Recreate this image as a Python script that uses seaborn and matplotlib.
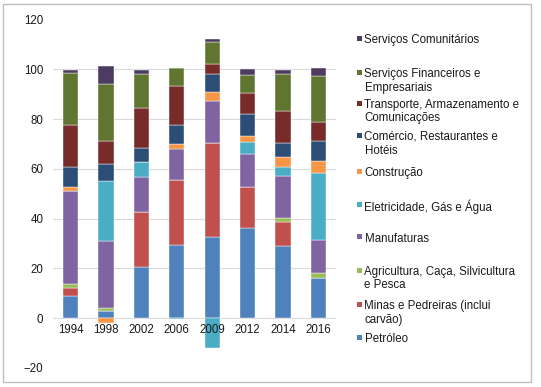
import numpy as np
import pandas as pd
import matplotlib.pyplot as plt
from matplotlib.patches import Rectangle
import seaborn as sns

# dados (% do PIB por sector)
anos = ["1994", "1998", "2002", "2006", "2009", "2012", "2014", "2016"]

sectores = [
    "Petróleo",
    "Minas e Pedreiras (inclui\ncarvão)",
    "Agricultura, Caça, Silvicultura\ne Pesca",
    "Manufaturas",
    "Eletricidade, Gás e Água",
    "Construção",
    "Comércio, Restaurantes e\nHotéis",
    "Transporte, Armazenamento e\nComunicações",
    "Serviços Financeiros e\nEmpresariais",
    "Serviços Comunitários",
]

petroleo = [9.0, 3.0, 20.4, 29.3, 32.7, 36.1, 28.9, 16.0]
minas = [3.0, 0.0, 22.3, 26.3, 37.6, 16.5, 9.8, 0.0]
agricultura = [1.8, 1.0, 0.0, 0.0, 0.0, 0.0, 1.4, 2.0]
manufaturas = [37.4, 27.2, 14.0, 12.4, 17.0, 13.4, 17.2, 13.3]
eletricidade = [0.0, 23.8, 6.2, -0.5, -12.0, 4.7, 3.4, 27.0]
construcao = [1.6, -2.0, 0.0, 2.0, 3.5, 2.3, 4.0, 4.8]
comercio = [8.0, 6.9, 5.5, 7.6, 7.2, 9.1, 5.8, 7.9]
transporte = [17.0, 9.1, 16.0, 15.7, 4.0, 8.3, 12.6, 7.7]
financeiros = [20.6, 23.2, 13.9, 7.1, 9.1, 7.3, 15.2, 18.6]
comunitarios = [1.3, 7.2, 1.3, 0.0, 1.1, 2.4, 1.3, 3.1]

valores = [petroleo, minas, agricultura, manufaturas, eletricidade,
           construcao, comercio, transporte, financeiros, comunitarios]

cores = ["#4F81BD", "#C0504D", "#9BBB59", "#8064A2", "#4BACC6",
         "#F79646", "#2C4D75", "#772C2A", "#5F7530", "#4D3B62"]

# posicoes da legenda (px desde o topo), de cima para baixo
legenda_y = [38, 72, 103, 135, 171, 204, 237, 270, 304, 337]

sns.set_theme(style="white")
plt.rcParams["font.family"] = ["Liberation Sans", "DejaVu Sans"]
plt.rcParams["font.size"] = 8

W, H = 541, 387
fig = plt.figure(figsize=(W / 100, H / 100), dpi=100)
ax = fig.add_axes([53 / W, 1 - 368 / H, (336 - 53) / W, (368 - 19.5) / H])

# barras empilhadas (positivos para cima, negativos para baixo)
base_pos = np.zeros(len(anos))
base_neg = np.zeros(len(anos))
for nome, vals, cor in zip(sectores, valores, cores):
    v = np.array(vals)
    base = np.where(v >= 0, base_pos, base_neg)
    df = pd.DataFrame({"ano": anos, "valor": v})
    sns.barplot(data=df, x="ano", y="valor", order=anos, color=cor,
                saturation=1, width=0.43, errorbar=None, bottom=base,
                edgecolor="white", linewidth=0.3, ax=ax)
    base_pos = base_pos + np.where(v > 0, v, 0)
    base_neg = base_neg + np.where(v < 0, v, 0)

ax.set_ylim(-20, 120)
ax.set_yticks(range(-20, 121, 20))
ax.set_xlim(-0.5, 7.5)
ax.set_xlabel("")
ax.set_ylabel("")
ax.yaxis.grid(True, color="#d9d9d9", linewidth=0.8)
ax.set_axisbelow(True)
ax.xaxis.set_zorder(5)  # rotulos dos anos por cima das barras
for s in ["top", "right", "left"]:
    ax.spines[s].set_visible(False)
ax.spines["bottom"].set_position(("data", 0))
ax.spines["bottom"].set_visible(False)
ax.tick_params(axis="x", length=0, pad=4, labelsize=8.3, colors="#1a1a1a")
ax.tick_params(axis="y", length=0, pad=7, labelsize=8.3, colors="#1a1a1a")

# legenda manual (estilo Excel)
for i, (nome, cor) in enumerate(zip(sectores[::-1], cores[::-1])):
    yc = legenda_y[i]
    fig.add_artist(Rectangle((356.5 / W, 1 - (yc + 2.5) / H), 5 / W, 5 / H,
                             transform=fig.transFigure, facecolor=cor,
                             edgecolor="none"))
    fig.text(364.5 / W, 1 - (yc - 4.3) / H, nome, ha="left", va="top",
             fontsize=8.3, color="#1a1a1a", linespacing=1.2)

# moldura do grafico
fig.add_artist(Rectangle((3 / W, 1 - 382 / H), 528 / W, 378 / H,
                         transform=fig.transFigure, fill=False,
                         edgecolor="#bfbfbf", linewidth=1))

fig.savefig("out.png", dpi=100)
